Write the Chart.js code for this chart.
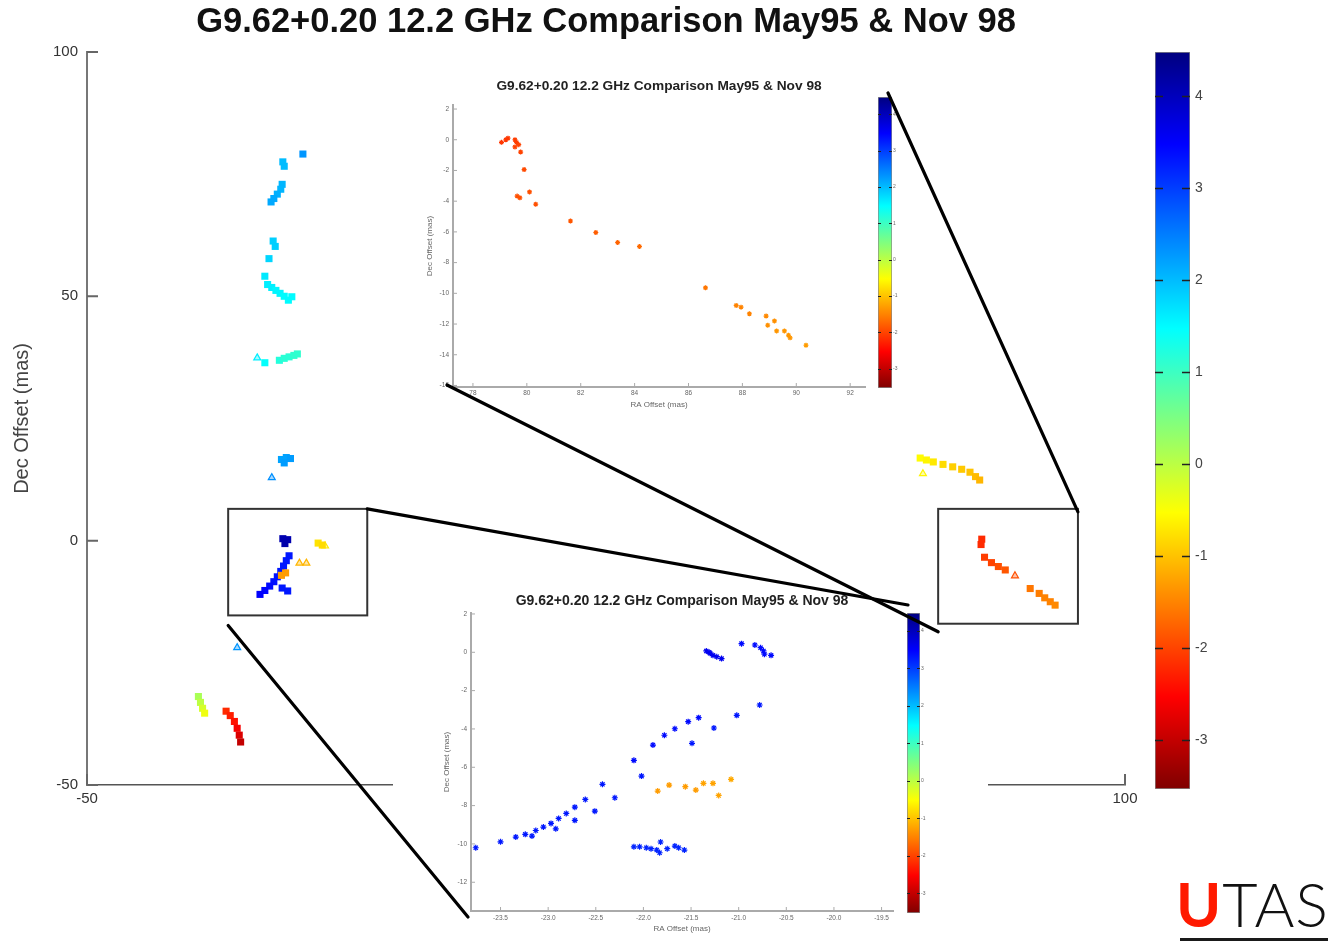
<!DOCTYPE html>
<html>
<head>
<meta charset="utf-8">
<style>
    body { margin: 0; padding: 0; background: #fff; }
    #page { position: relative; width: 1331px; height: 946px; overflow: hidden; background: #fff; }
    .box { position: absolute; }
    .inset { background: #fff; }
    .soft { filter: blur(0.6px); }
    #links { position: absolute; left: 0; top: 0; pointer-events: none; }
    #logo { position: absolute; left: 1176px; top: 874px; font-family: Lato, "Open Sans", sans-serif; font-size: 61px; line-height: 60px; color: #111; font-weight: 300; letter-spacing: 1px; }
    #logo .u { color: #ff1a00; font-weight: 700; }
    #logoRule { position: absolute; left: 1180px; top: 938px; width: 148px; height: 3px; background: #1a1a1a; }
</style>
</head>
<body>
<div id="page">
    <div class="box" style="left:0;top:0;"><canvas id="mainChart" width="1331" height="946"></canvas></div>
    <div class="box" style="left:1150px;top:45px;"><canvas id="mainBar" width="80" height="755"></canvas></div>

    <div class="box inset" style="left:400px;top:72px;width:475px;height:345px;"><canvas id="topChart" class="soft" width="475" height="345"></canvas></div>
    <div class="box" style="left:874px;top:92px;"><canvas id="topBar" class="soft" width="30" height="302"></canvas></div>

    <div class="box inset" style="left:393px;top:585px;width:595px;height:355px;"><canvas id="bottomChart" class="soft" width="595" height="355"></canvas></div>
    <div class="box" style="left:902px;top:608px;"><canvas id="bottomBar" class="soft" width="32" height="310"></canvas></div>

    <canvas id="links" width="1331" height="946"></canvas>
    <div id="logo"><span class="u">U</span>TAS</div>
    <div id="logoRule"></div>
</div>

<script src="https://cdn.jsdelivr.net/npm/chart.js"></script>
<script>
const TITLE = 'G9.62+0.20 12.2 GHz Comparison May95 & Nov 98';

// colour scale (velocity) shared by all panels
const CBAR_MIN = -3.53, CBAR_MAX = 4.48;
const cbarTicks = [-3, -2, -1, 0, 1, 2, 3, 4];

// main map: May95 spots (squares)
const mayX = [-18.8, -21.7, -21.5, -21.8, -22.0, -22.5, -23.0, -23.4, -23.1, -22.8, -23.7, -24.3, -23.9, -23.3, -22.7, -22.1, -21.5, -20.9, -20.4,
              -24.3, -22.2, -21.5, -20.8, -20.1, -19.6, -21.9, -21.2, -20.6, -21.5, -21.7, -21.0, -21.4,
              -20.8, -21.2, -21.6, -22.0, -22.5, -23.0, -23.6, -24.3, -25.0, -21.8, -21.0, -21.9, -21.3, -16.6, -16.0,
              -33.9, -33.6, -33.3, -33.0, -29.9, -29.3, -28.7, -28.3, -28.0, -27.8,
              70.4, 71.3, 72.3, 73.7, 75.1, 76.4, 77.6, 78.4, 79.0,
              79.3, 79.2, 79.7, 80.7, 81.7, 82.7, 86.3, 87.6, 88.4, 89.2, 89.9];
const mayY = [79.1, 77.5, 76.6, 72.9, 71.9, 70.9, 70.0, 69.3, 61.3, 60.2, 57.7, 54.1, 52.4, 51.8, 51.2, 50.6, 50.0, 49.2, 49.9,
              36.4, 36.9, 37.3, 37.6, 37.9, 38.2, 16.6, 17.0, 16.8, 15.9, 0.4, 0.2, -0.6,
              -3.1, -4.1, -5.2, -6.3, -7.4, -8.4, -9.3, -10.2, -11.0, -9.7, -10.3, -7.1, -6.6, -0.5, -0.9,
              -31.9, -33.1, -34.3, -35.3, -34.9, -35.8, -37.0, -38.4, -39.8, -41.2,
              16.9, 16.5, 16.1, 15.6, 15.1, 14.6, 14.0, 13.1, 12.4,
              0.3, -0.8, -3.4, -4.5, -5.3, -6.0, -9.8, -10.8, -11.7, -12.5, -13.2];
const mayV = [2.3, 2.0, 2.0, 2.05, 2.05, 2.1, 2.15, 2.15, 1.85, 1.85, 1.8, 1.65, 1.6, 1.6, 1.55, 1.55, 1.5, 1.5, 1.5,
              1.45, 1.2, 1.15, 1.15, 1.1, 1.1, 2.2, 2.2, 2.25, 2.25, 4.1, 4.1, 4.15,
              3.3, 3.3, 3.3, 3.3, 3.35, 3.35, 3.4, 3.45, 3.5, 3.3, 3.3, -1.3, -1.3, -0.75, -0.8,
              0.15, 0.0, -0.2, -0.4, -2.2, -2.3, -2.4, -2.6, -2.8, -3.0,
              -0.55, -0.6, -0.7, -0.8, -0.9, -0.95, -1.0, -1.05, -1.1,
              -2.2, -2.2, -2.05, -2.0, -1.9, -1.85, -1.6, -1.55, -1.5, -1.5, -1.45];

// main map: Nov98 spots (triangles)
const novX = [-25.4, -23.3, -19.3, -18.3, -15.6, -28.3, 70.8, 84.1];
const novY = [37.4, 12.9, -4.6, -4.6, -1.1, -21.9, 13.7, -7.2];
const novV = [1.6, 2.35, -1.1, -1.1, -0.7, 2.3, -0.6, -1.9];

const mainXTicks = [-50, 0, 50, 100];
const mainYTicks = [-50, 0, 50, 100];

// upper inset (eastern group)
const eastX = [79.06, 79.22, 79.3, 79.56, 79.62, 79.7, 79.56, 79.77, 79.9, 80.1, 79.64, 79.74, 80.33, 81.62, 82.56, 83.37, 84.18,
               86.63, 87.77, 87.95, 88.26, 88.88, 88.94, 89.19, 89.27, 89.56, 89.71, 89.77, 90.36];
const eastY = [-0.17, 0.0, 0.1, 0.0, -0.17, -0.32, -0.47, -0.8, -1.94, -3.4, -3.67, -3.78, -4.2, -5.29, -6.04, -6.69, -6.95,
               -9.64, -10.79, -10.9, -11.33, -11.48, -12.08, -11.8, -12.45, -12.45, -12.73, -12.9, -13.38];
const eastV = [-2.1, -2.1, -2.1, -2.05, -2.05, -2.0, -2.0, -2.0, -1.95, -1.9, -1.9, -1.9, -1.9, -1.85, -1.8, -1.75, -1.7,
               -1.6, -1.5, -1.5, -1.5, -1.45, -1.4, -1.4, -1.35, -1.35, -1.35, -1.35, -1.3];
const eastXTicks = [78, 80, 82, 84, 86, 88, 90, 92];
const eastYTicks = [-16, -14, -12, -10, -8, -6, -4, -2, 0, 2];

// lower inset (western group)
const westX = [-23.76, -23.5, -23.34, -23.24, -23.17, -23.13, -23.05, -22.97, -22.92, -22.89, -22.81, -22.72, -22.72, -22.61, -22.51,
               -22.43, -22.3, -22.1, -22.02, -21.9, -21.78, -21.67, -21.53, -21.49, -21.42, -21.26, -21.02, -20.78,
               -21.34, -21.31, -21.3, -21.27, -21.23, -21.18, -20.97, -20.83, -20.77, -20.74, -20.73, -20.66,
               -21.85, -21.73, -21.56, -21.45, -21.37, -21.27, -21.21, -21.08,
               -22.1, -22.04, -21.97, -21.92, -21.86, -21.83, -21.82, -21.75, -21.67, -21.63, -21.57];
const westY = [-10.2, -9.89, -9.64, -9.5, -9.59, -9.3, -9.12, -8.93, -9.21, -8.67, -8.41, -8.08, -8.77, -7.68, -8.29,
               -6.89, -7.59, -5.64, -6.46, -4.84, -4.33, -3.99, -3.62, -4.75, -3.41, -3.95, -3.29, -2.75,
               0.07, 0.0, -0.05, -0.16, -0.23, -0.33, 0.45, 0.38, 0.24, 0.07, -0.1, -0.16,
               -7.24, -6.93, -7.01, -7.19, -6.84, -6.84, -7.47, -6.63,
               -10.15, -10.15, -10.2, -10.25, -10.32, -10.46, -9.9, -10.25, -10.11, -10.2, -10.32];
const westV = [3.3, 3.3, 3.3, 3.3, 3.3, 3.3, 3.3, 3.3, 3.3, 3.3, 3.3, 3.3, 3.3, 3.3, 3.3,
               3.3, 3.3, 3.4, 3.3, 3.4, 3.4, 3.4, 3.4, 3.3, 3.4, 3.3, 3.3, 3.3,
               3.6, 3.6, 3.6, 3.6, 3.6, 3.6, 3.4, 3.4, 3.4, 3.4, 3.4, 3.4,
               -1.3, -1.3, -1.3, -1.3, -1.25, -1.25, -1.25, -1.2,
               3.2, 3.2, 3.2, 3.2, 3.2, 3.2, 3.2, 3.2, 3.2, 3.2, 3.2];
const westXTicks = [-23.5, -23, -22.5, -22, -21.5, -21, -20.5, -20, -19.5];
const westYTicks = [-12, -10, -8, -6, -4, -2, 0, 2];

// zoom windows on the main map (data units)
const westBox = { x0: -29.6, x1: -9.5, y0: -15.3, y1: 6.5 };
const eastBox = { x0: 73.0, x1: 93.2, y0: -17.0, y1: 6.5 };

Chart.defaults.font.family = '"Liberation Sans", Arial, Helvetica, sans-serif';

// jet colour map, high velocities blue
function jet(v, alpha) {
    let t = (CBAR_MAX - v) / (CBAR_MAX - CBAR_MIN);
    t = Math.min(1, Math.max(0, t));
    const c = x => Math.round(255 * Math.min(1, Math.max(0, 1.5 - Math.abs(x))));
    const r = c(4 * t - 3), g = c(4 * t - 2), b = c(4 * t - 1);
    return alpha == null ? `rgb(${r},${g},${b})` : `rgba(${r},${g},${b},${alpha})`;
}

function points(xs, ys) {
    return xs.map((x, i) => ({ x: x, y: ys[i] }));
}

function fixedTicks(list) {
    return scale => { scale.ticks = list.map(v => ({ value: v })); };
}

// matlab style tick marks pointing into the plot
const inwardTicks = {
    id: 'inwardTicks',
    afterDraw(chart, args, opts) {
        const { ctx, chartArea: a, scales: { x, y } } = chart;
        ctx.save();
        ctx.strokeStyle = opts.color;
        ctx.lineWidth = opts.width;
        ctx.beginPath();
        y.ticks.forEach(t => {
            const py = y.getPixelForValue(t.value);
            ctx.moveTo(a.left, py); ctx.lineTo(a.left + opts.len, py);
        });
        x.ticks.forEach(t => {
            const px = x.getPixelForValue(t.value);
            ctx.moveTo(px, a.bottom); ctx.lineTo(px, a.bottom - opts.len);
        });
        ctx.stroke();
        ctx.restore();
    }
};

// short dashes on both edges of a colour bar
const barDashes = {
    id: 'barDashes',
    afterDatasetsDraw(chart, args, opts) {
        const { ctx, chartArea: a, scales: { y } } = chart;
        ctx.save();
        ctx.strokeStyle = '#222';
        ctx.lineWidth = opts.width;
        ctx.beginPath();
        y.ticks.forEach(t => {
            const py = Math.round(y.getPixelForValue(t.value)) + 0.5;
            ctx.moveTo(a.left, py); ctx.lineTo(a.left + opts.len, py);
            ctx.moveTo(a.right - opts.len, py); ctx.lineTo(a.right, py);
        });
        ctx.stroke();
        ctx.restore();
    }
};

function scatterSet(xs, ys, vs, style, radius, filled) {
    return {
        data: points(xs, ys),
        pointStyle: style,
        pointRadius: radius,
        borderWidth: filled ? 0 : 1.2,
        backgroundColor: ctx => jet(vs[ctx.dataIndex], filled ? undefined : 0.35),
        borderColor: ctx => jet(vs[ctx.dataIndex]),
        showLine: false
    };
}

// main map
const mainChart = new Chart(document.getElementById('mainChart'), {
    type: 'scatter',
    data: {
        datasets: [
            scatterSet(mayX, mayY, mayV, 'rect', 5, true),
            scatterSet(novX, novY, novV, 'triangle', 4, false)
        ]
    },
    options: {
        responsive: false,
        animation: false,
        events: [],
        layout: { padding: { left: 0, right: 206, top: 0, bottom: 0 } },
        plugins: {
            legend: { display: false },
            tooltip: { enabled: false },
            title: {
                display: true, text: TITLE, fullSize: false, color: '#111',
                font: { size: 34.5, weight: 'bold' }, padding: { top: 1.5, bottom: 9 }
            },
            inwardTicks: { color: '#666', width: 2, len: 11 }
        },
        scales: {
            x: {
                type: 'linear', min: -50, max: 100,
                afterBuildTicks: fixedTicks(mainXTicks),
                afterFit: s => { s.height = 161; },
                grid: { display: false, drawTicks: false },
                border: { display: true, color: '#555', width: 1.5 },
                ticks: { color: '#333', font: { size: 15 }, padding: 5 }
            },
            y: {
                type: 'linear', min: -50, max: 100,
                afterBuildTicks: fixedTicks(mainYTicks),
                afterFit: s => { s.width = 87; },
                grid: { display: false, drawTicks: false },
                border: { display: true, color: '#777', width: 2 },
                ticks: { color: '#333', font: { size: 15 }, padding: 9 },
                title: { display: true, text: 'Dec Offset (mas)', color: '#444', font: { size: 20 }, padding: { top: 10, bottom: 0 } }
            }
        }
    },
    plugins: [inwardTicks]
});

// inset panels
function inset(id, xs, ys, vs, opt) {
    return new Chart(document.getElementById(id), {
        type: 'scatter',
        data: { datasets: [scatterSet(xs, ys, vs, 'star', opt.radius, false)] },
        options: {
            responsive: false,
            animation: false,
            events: [],
            layout: { padding: { left: 0, right: opt.padRight, top: 0, bottom: 0 } },
            plugins: {
                legend: { display: false },
                tooltip: { enabled: false },
                title: {
                    display: true, text: TITLE, fullSize: false, color: '#222',
                    font: { size: opt.titleSize, weight: 'bold' }, padding: opt.titlePad
                },
                inwardTicks: { color: '#aaa', width: 1, len: 4 }
            },
            scales: {
                x: {
                    type: 'linear', min: opt.xMin, max: opt.xMax,
                    afterBuildTicks: fixedTicks(opt.xTicks),
                    afterFit: s => { s.height = opt.xHeight; },
                    grid: { display: false, drawTicks: false },
                    border: { display: true, color: '#aaa', width: 2 },
                    ticks: { color: '#666', font: { size: 6.5 }, padding: opt.xTickPad },
                    title: { display: true, text: 'RA Offset (mas)', color: '#666', font: { size: 8 }, padding: { top: 0, bottom: opt.xTitlePad } }
                },
                y: {
                    type: 'linear', min: opt.yMin, max: opt.yMax,
                    afterBuildTicks: fixedTicks(opt.yTicks),
                    afterFit: s => { s.width = opt.yWidth; },
                    grid: { display: false, drawTicks: false },
                    border: { display: true, color: '#aaa', width: 2 },
                    ticks: { color: '#666', font: { size: 6.5 }, padding: 4 },
                    title: { display: true, text: 'Dec Offset (mas)', color: '#666', font: { size: 8 }, padding: { top: opt.yTitlePad, bottom: 0 } }
                }
            }
        },
        plugins: [inwardTicks]
    });
}

inset('topChart', eastX, eastY, eastV, {
    radius: 2.5, padRight: 10, titleSize: 13.7, titlePad: { top: 5.8, bottom: 10.8 },
    xMin: 77.26, xMax: 92.55, xTicks: eastXTicks, xHeight: 30, xTickPad: 2, xTitlePad: 7,
    yMin: -16.1, yMax: 2.26, yTicks: eastYTicks, yWidth: 53, yTitlePad: 25
});

inset('bottomChart', westX, westY, westV, {
    radius: 3, padRight: 95, titleSize: 14, titlePad: { top: 7.6, bottom: 3.6 },
    xMin: -23.81, xMax: -19.38, xTicks: westXTicks, xHeight: 29, xTickPad: 3, xTitlePad: 6,
    yMin: -13.5, yMax: 2.05, yTicks: westYTicks, yWidth: 78, yTitlePad: 49
});

// colour bars
function colourBar(id, opt) {
    return new Chart(document.getElementById(id), {
        type: 'bar',
        data: {
            labels: [''],
            datasets: [{
                data: [[CBAR_MIN, CBAR_MAX]],
                backgroundColor: ctx => {
                    const chart = ctx.chart;
                    const ys = chart.scales.y;
                    if (!chart.chartArea || !ys) return '#888';
                    const g = chart.ctx.createLinearGradient(0, ys.getPixelForValue(CBAR_MIN), 0, ys.getPixelForValue(CBAR_MAX));
                    for (let i = 0; i <= 64; i++) {
                        g.addColorStop(i / 64, jet(CBAR_MIN + (CBAR_MAX - CBAR_MIN) * i / 64));
                    }
                    return g;
                },
                borderColor: '#888',
                borderWidth: 1,
                borderSkipped: false,
                barPercentage: 1,
                categoryPercentage: 1
            }]
        },
        options: {
            responsive: false,
            animation: false,
            events: [],
            layout: { padding: opt.pad },
            plugins: {
                legend: { display: false },
                tooltip: { enabled: false },
                barDashes: { len: opt.dash, width: opt.dashWidth }
            },
            scales: {
                x: { display: false },
                y: {
                    position: 'right', min: CBAR_MIN, max: CBAR_MAX,
                    afterBuildTicks: fixedTicks(cbarTicks),
                    afterFit: s => { s.width = opt.axisWidth; s.paddingTop = 0; s.paddingBottom = 0; },
                    grid: { display: false, drawTicks: false },
                    border: { display: false },
                    ticks: { color: opt.tickColor, font: { size: opt.fontSize }, padding: opt.tickPad }
                }
            }
        },
        plugins: [barDashes]
    });
}

colourBar('mainBar', { pad: { left: 5, top: 7, bottom: 11, right: 0 }, axisWidth: 40, fontSize: 14, tickPad: 5, tickColor: '#444', dash: 8, dashWidth: 1.5 });
colourBar('topBar', { pad: { left: 4, top: 5, bottom: 6, right: 0 }, axisWidth: 12, fontSize: 5, tickPad: 1, tickColor: '#666', dash: 3, dashWidth: 1 });
colourBar('bottomBar', { pad: { left: 5, top: 5, bottom: 5, right: 0 }, axisWidth: 14, fontSize: 5, tickPad: 1, tickColor: '#666', dash: 3, dashWidth: 1 });

// zoom boxes and the lines leading to the insets
(function drawLinks() {
    const ctx = document.getElementById('links').getContext('2d');
    const sx = mainChart.scales.x, sy = mainChart.scales.y;
    const rect = b => ({
        l: sx.getPixelForValue(b.x0), r: sx.getPixelForValue(b.x1),
        t: sy.getPixelForValue(b.y1), b: sy.getPixelForValue(b.y0)
    });
    const w = rect(westBox), e = rect(eastBox);

    ctx.strokeStyle = '#333';
    ctx.lineWidth = 2;
    [w, e].forEach(r => ctx.strokeRect(r.l, r.t, r.r - r.l, r.b - r.t));

    const links = [
        [[w.r, w.t], [908, 605]],
        [[w.l, w.b + 10], [468, 917]],
        [[447, 385], [e.l, e.b + 8]],
        [[888, 93], [e.r, e.t + 3]]
    ];
    ctx.strokeStyle = '#000';
    ctx.lineWidth = 3.2;
    ctx.lineCap = 'round';
    links.forEach(([a, b]) => {
        ctx.beginPath();
        ctx.moveTo(a[0], a[1]);
        ctx.lineTo(b[0], b[1]);
        ctx.stroke();
    });
})();
</script>
</body>
</html>
